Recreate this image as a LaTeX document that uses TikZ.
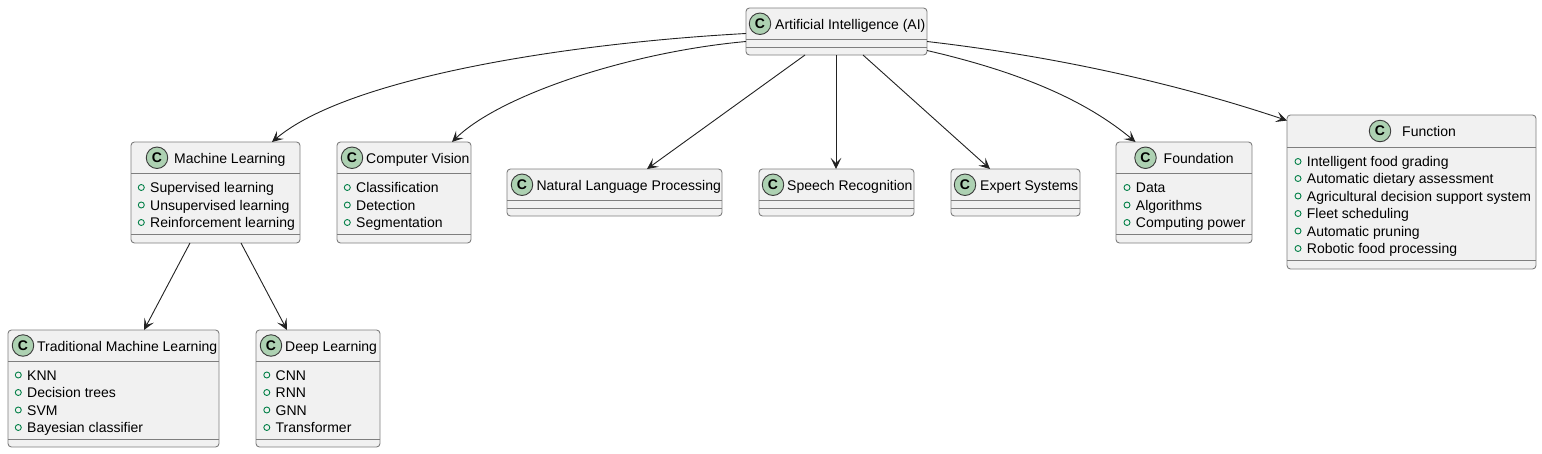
\documentclass[tikz,border=0pt]{standalone}
\usepackage{fontspec}
\setmainfont{Liberation Sans}
\usetikzlibrary{arrows.meta,calc}
\definecolor{boxfill}{HTML}{F1F1F1}
\definecolor{boxline}{HTML}{7E7E7E}
\definecolor{iconfill}{HTML}{ADD1B2}
\definecolor{iconline}{HTML}{3A3A3A}
\definecolor{markline}{HTML}{038048}
\definecolor{wire}{HTML}{222222}
\tikzset{
  umlbox/.style={draw=boxline,fill=boxfill,line width=0.9pt,rounded corners=3.5pt,inner sep=0pt,outer sep=0pt},
  divline/.style={draw=boxline,line width=0.9pt},
  icon/.style={circle,draw=iconline,fill=iconfill,line width=0.9pt,minimum size=21.5pt,inner sep=0pt,font=\fontsize{14}{14}\selectfont\bfseries},
  titletext/.style={anchor=base west,inner sep=0pt,font=\fontsize{14}{14}\selectfont,text=black},
  itemtext/.style={anchor=base west,inner sep=0pt,font=\fontsize{14}{14}\selectfont,text=black},
  marker/.style={circle,draw=markline,line width=0.9pt,minimum size=6pt,inner sep=0pt},
  conn/.style={draw=wire,line width=0.9pt,-{Stealth[length=11pt,width=10.5pt,inset=5pt]}}
}
% name, x1, y1, x2, y2, div1, div2, icon x, title x, title
\newcommand{\umlclass}[9]{%
  \node[umlbox,minimum width=#4pt-#2pt,minimum height=#5pt-#3pt] (#1) at ({(#2+#4)/2},{(#3+#5)/2}) {};
  \draw[divline] (#2,#6) -- (#4,#6);
  \draw[divline] (#2,#7) -- (#4,#7);
  \umlrest{#1}{#3}{#6}{#8}{#9}%
}
\newcommand{\umlrest}[5]{%
  \node[icon] (#1-icon) at (#4,{(#2+#3)/2}) {C};
  \node[titletext] (#1-title) at (#5,{(#2+#3)/2+5.5}) {\umltitle};
}
\newcommand{\umltitle}{}
\newcommand{\umlitem}[4]{% name, box x1, y centre, text
  \node[marker] (#1-m) at (#2+10.3,#3) {};
  \node[itemtext] (#1-t) at (#2+19,#3+5) {#4};
}
\begin{document}
\begin{tikzpicture}[x=1pt,y=-1pt]
\useasboundingbox (0,0) rectangle (1542,453);
\fill[white] (0,0) rectangle (1542,453);

\renewcommand{\umltitle}{Artificial Intelligence (AI)}
\umlclass{ai}{746}{8}{927}{55}{39.5}{47.5}{760}{775}
\renewcommand{\umltitle}{Machine Learning}
\umlclass{ml}{131}{142}{300}{243}{173.5}{234.5}{157}{174}
\umlitem{ml1}{131}{187.5}{Supervised learning}
\umlitem{ml2}{131}{205}{Unsupervised learning}
\umlitem{ml3}{131}{222.5}{Reinforcement learning}
\renewcommand{\umltitle}{Computer Vision}
\umlclass{cv}{337}{142}{471}{243}{173.5}{234.5}{352}{366}
\umlitem{cv1}{337}{187.5}{Classification}
\umlitem{cv2}{337}{205}{Detection}
\umlitem{cv3}{337}{222.5}{Segmentation}
\renewcommand{\umltitle}{Natural Language Processing}
\umlclass{nlp}{507}{169}{722}{216}{200.5}{208.5}{522}{536.3}
\renewcommand{\umltitle}{Speech Recognition}
\umlclass{sr}{759}{169}{914}{216}{200.5}{208.5}{773}{787}
\renewcommand{\umltitle}{Expert Systems}
\umlclass{es}{951}{169}{1080}{216}{200.5}{208.5}{965}{980}
\renewcommand{\umltitle}{Foundation}
\umlclass{fo}{1116}{142}{1252}{243}{173.5}{234.5}{1145.5}{1163.5}
\umlitem{fo1}{1116.7}{187.5}{Data}
\umlitem{fo2}{1116.7}{205}{Algorithms}
\umlitem{fo3}{1116.7}{222.5}{Computing power}
\renewcommand{\umltitle}{Function}
\umlclass{fn}{1287}{115}{1536}{269}{147}{260}{1380}{1402}
\umlitem{fn1}{1287.7}{161.5}{Intelligent food grading}
\umlitem{fn2}{1287.7}{178.5}{Automatic dietary assessment}
\umlitem{fn3}{1287.7}{196}{Agricultural decision support system}
\umlitem{fn4}{1287.7}{213.5}{Fleet scheduling}
\umlitem{fn5}{1287.7}{231}{Automatic pruning}
\umlitem{fn6}{1287.7}{248.5}{Robotic food processing}
\renewcommand{\umltitle}{Traditional Machine Learning}
\umlclass{tm}{8}{330}{219}{447}{361}{439}{23}{37}
\umlitem{tm1}{8}{375}{KNN}
\umlitem{tm2}{8}{392.5}{Decision trees}
\umlitem{tm3}{8}{410}{SVM}
\umlitem{tm4}{8}{427.5}{Bayesian classifier}
\renewcommand{\umltitle}{Deep Learning}
\umlclass{dl}{256}{330}{380}{447}{361}{439}{271}{285}
\umlitem{dl1}{256.5}{375}{CNN}
\umlitem{dl2}{256.5}{392.5}{RNN}
\umlitem{dl3}{256.5}{410}{GNN}
\umlitem{dl4}{256.5}{427.5}{Transformer}

\draw[conn] ([yshift=-25.5pt]ai.north west) .. controls (555,44) and (345,80) .. ([xshift=141pt]ml.north west);
\draw[conn] ([yshift=-33.5pt]ai.north west) .. controls (630,52) and (500,95) .. ([xshift=115pt]cv.north west);
\draw[conn] ([xshift=59pt]ai.south west) -- ([xshift=140pt]nlp.north west);
\draw[conn] ([xshift=90pt]ai.south west) -- ([xshift=77pt]sr.north west);
\draw[conn] ([xshift=117pt]ai.south west) -- ([xshift=39pt]es.north west);
\draw[conn] ([yshift=-42.5pt]ai.north east) .. controls (1020,72) and (1085,100) .. ([xshift=19.5pt]fo.north west);
\draw[conn] ([yshift=-33.5pt]ai.north east) .. controls (1070,58) and (1190,88) .. ([yshift=-5.5pt]fn.north west);
\draw[conn] ([xshift=59pt]ml.south west) -- ([xshift=136pt]tm.north west);
\draw[conn] ([xshift=110pt]ml.south west) -- ([xshift=31pt]dl.north west);
\end{tikzpicture}
\end{document}
